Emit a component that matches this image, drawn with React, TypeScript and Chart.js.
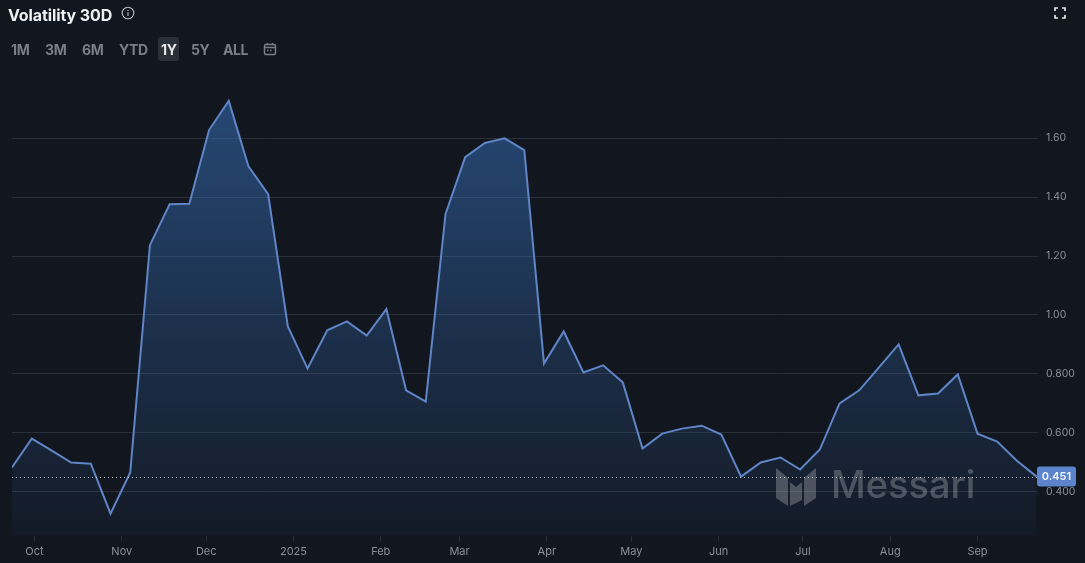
import React, { useEffect, useRef } from "react";
import { Chart, registerables } from "chart.js";

Chart.register(...registerables);

const dates = [
  "2024-09-23","2024-09-30","2024-10-07","2024-10-14","2024-10-21","2024-10-28","2024-11-04","2024-11-11","2024-11-18","2024-11-25",
  "2024-12-02","2024-12-09","2024-12-16","2024-12-23","2024-12-30","2025-01-06","2025-01-13","2025-01-20","2025-01-27","2025-02-03",
  "2025-02-10","2025-02-17","2025-02-24","2025-03-03","2025-03-10","2025-03-17","2025-03-24","2025-03-31","2025-04-07","2025-04-14",
  "2025-04-21","2025-04-28","2025-05-05","2025-05-12","2025-05-19","2025-05-26","2025-06-02","2025-06-09","2025-06-16","2025-06-23",
  "2025-06-30","2025-07-07","2025-07-14","2025-07-21","2025-07-28","2025-08-04","2025-08-11","2025-08-18","2025-08-25","2025-09-01",
  "2025-09-08","2025-09-15","2025-09-22",
];
const volatility = [
  0.482,0.58,0.54,0.499,0.495,0.325,0.465,1.237,1.376,1.378,
  1.628,1.727,1.505,1.41,0.961,0.818,0.948,0.978,0.93,1.02,
  0.744,0.706,1.342,1.536,1.584,1.6,1.56,0.835,0.944,0.805,
  0.829,0.771,0.546,0.597,0.614,0.624,0.594,0.451,0.499,0.516,
  0.475,0.543,0.70,0.744,0.822,0.90,0.727,0.733,0.798,0.597,
  0.57,0.505,0.451,
];
const monthTicks = ["2024-10-01","2024-11-01","2024-12-01","2025-01-01","2025-02-01","2025-03-01","2025-04-01","2025-05-01","2025-06-01","2025-07-01","2025-08-01","2025-09-01"];
const monthLabels = ["Oct","Nov","Dec","2025","Feb","Mar","Apr","May","Jun","Jul","Aug","Sep"];
const yTicks = [0.4,0.6,0.8,1.0,1.2,1.4,1.6];
const yLabels = ["0.400","0.600","0.800","1.00","1.20","1.40","1.60"];
const lastValue = 0.451;
const rangeButtons = ["1M","3M","6M","YTD","1Y","5Y","ALL"];
const rangeX = [11,45,82,119,161,191,223];

const DAY = 86400000;
const toDay = (s: string) => Date.parse(s + "T00:00:00Z") / DAY;
const FONT = "Inter, 'Open Sans', sans-serif";

const overlayPlugin = {
  id: "overlay",
  afterDatasetsDraw(chart: any) {
    const { ctx, scales, chartArea } = chart;
    const y = scales.y.getPixelForValue(lastValue);
    ctx.save();
    ctx.fillStyle = "rgba(255,255,255,0.24)";
    ctx.font = "500 38px Inter, sans-serif";
    ctx.textBaseline = "middle";
    ctx.fillText("Messari", 831, 487);
    ctx.beginPath();
    ctx.moveTo(776,468);ctx.lineTo(788,478);ctx.lineTo(788,506);ctx.lineTo(776,498);ctx.closePath();
    ctx.moveTo(790,482);ctx.lineTo(796,487);ctx.lineTo(802,482);ctx.lineTo(802,500);ctx.lineTo(790,506);ctx.closePath();
    ctx.moveTo(804,478);ctx.lineTo(816,468);ctx.lineTo(816,498);ctx.lineTo(804,506);ctx.closePath();
    ctx.fill();
    ctx.strokeStyle = "rgba(225,230,240,0.8)";
    ctx.lineWidth = 1;
    ctx.setLineDash([1,3]);
    ctx.beginPath();
    ctx.moveTo(chartArea.left, Math.round(y) + 0.5);
    ctx.lineTo(chartArea.right, Math.round(y) + 0.5);
    ctx.stroke();
    ctx.setLineDash([]);
    ctx.fillStyle = "#5b84cc";
    ctx.beginPath();
    ctx.roundRect(1037, y - 10, 39, 20, 3);
    ctx.fill();
    ctx.fillStyle = "#f2f5fb";
    ctx.font = "600 11px Inter, sans-serif";
    ctx.textAlign = "center";
    ctx.fillText(lastValue.toFixed(3), 1056.5, y + 0.5);
    ctx.restore();
  },
};

export default function App() {
  const ref = useRef<HTMLCanvasElement>(null);
  useEffect(() => {
    document.body.style.margin = "0";
    document.body.style.background = "#12161f";
    const chart = new Chart(ref.current!, {
      type: "line",
      data: {
        datasets: [{
          data: dates.map((d, i) => ({ x: toDay(d), y: volatility[i] })),
          borderColor: "#5f85c6",
          borderWidth: 2,
          pointRadius: 0,
          tension: 0,
          fill: "start",
          backgroundColor: (c: any) => {
            const a = c.chart.chartArea;
            if (!a) return "transparent";
            const g = c.chart.ctx.createLinearGradient(0, 100, 0, a.bottom);
            g.addColorStop(0, "rgba(53,109,179,0.58)");
            g.addColorStop(1, "rgba(53,109,179,0.05)");
            return g;
          },
        }],
      },
      options: {
        animation: false,
        responsive: false,
        layout: { padding: { left: 12, right: 0, top: 75, bottom: 2 } },
        plugins: { legend: { display: false }, tooltip: { enabled: false } },
        scales: {
          x: {
            type: "linear",
            min: toDay(dates[0]),
            max: toDay(dates[dates.length - 1]) + 0.5,
            afterBuildTicks: (s: any) => { s.ticks = monthTicks.map((m) => ({ value: toDay(m) })); },
            ticks: {
              autoSkip: false, maxRotation: 0, padding: 3,
              color: "#8b8f98", font: { family: FONT, size: 11 },
              callback: (v: any) => monthLabels[monthTicks.findIndex((m) => toDay(m) === v)],
            },
            grid: { drawOnChartArea: false, color: "#2b2f38", tickLength: 6 },
            border: { display: false },
          },
          y: {
            position: "right",
            min: 0.25, max: 1.815,
            afterBuildTicks: (s: any) => { s.ticks = yTicks.map((v) => ({ value: v })); },
            afterFit: (s: any) => { s.width = 47; },
            ticks: {
              padding: 8, color: "#8b8f98", font: { family: FONT, size: 10.5 }, mirror: false,
              callback: (v: any) => yLabels[yTicks.findIndex((t) => Math.abs(t - v) < 1e-6)],
            },
            grid: { color: "#2a2e37", drawTicks: false },
            border: { display: false },
          },
        },
      },
      plugins: [overlayPlugin],
    } as any);
    return () => chart.destroy();
  }, []);

  return (
    <div style={{ position: "relative", width: 1085, height: 563, background: "#12161f", overflow: "hidden", fontFamily: FONT }}>
      <canvas ref={ref} width={1085} height={563} style={{ position: "absolute", left: 0, top: 0, display: "block" }} />
      <div style={{ position: "absolute", left: 8, top: 5, color: "#eef0f4", fontSize: 16, fontWeight: 700, lineHeight: "20px", letterSpacing: -0.1 }}>Volatility 30D</div>
      <svg style={{ position: "absolute", left: 121, top: 6 }} width="14" height="14" viewBox="0 0 14 14" fill="none" stroke="#b9bcc3" strokeWidth="1.1">
        <circle cx="7" cy="7" r="5.8" /><path d="M7 6.2V10M7 4V4.9" />
      </svg>
      <div style={{ position: "absolute", left: 158, top: 37, width: 21, height: 24, borderRadius: 3, background: "#2b2f38" }} />
      {rangeButtons.map((b, i) => (
        <div key={b} style={{ position: "absolute", left: rangeX[i], top: 41, color: b === "1Y" ? "#e4e6ea" : "#7a7e87", fontSize: 14, fontWeight: 700, lineHeight: "18px", letterSpacing: -0.4 }}>{b}</div>
      ))}
      <svg style={{ position: "absolute", left: 263, top: 42 }} width="14" height="14" viewBox="0 0 14 14" fill="none" stroke="#7a7e87" strokeWidth="1.5">
        <rect x="1.5" y="2.5" width="11" height="10" rx="1.5" /><path d="M1.5 5.5H12.5M4.5 1V3M9.5 1V3" /><path d="M4 8.5H10" strokeDasharray="1.5 1.5" />
      </svg>
      <svg style={{ position: "absolute", left: 1054, top: 7 }} width="12" height="12" viewBox="0 0 12 12" fill="none" stroke="#e4e6ea" strokeWidth="1.7">
        <path d="M1 4V1H4M8 1H11V4M11 8V11H8M4 11H1V8" />
      </svg>
    </div>
  );
}
